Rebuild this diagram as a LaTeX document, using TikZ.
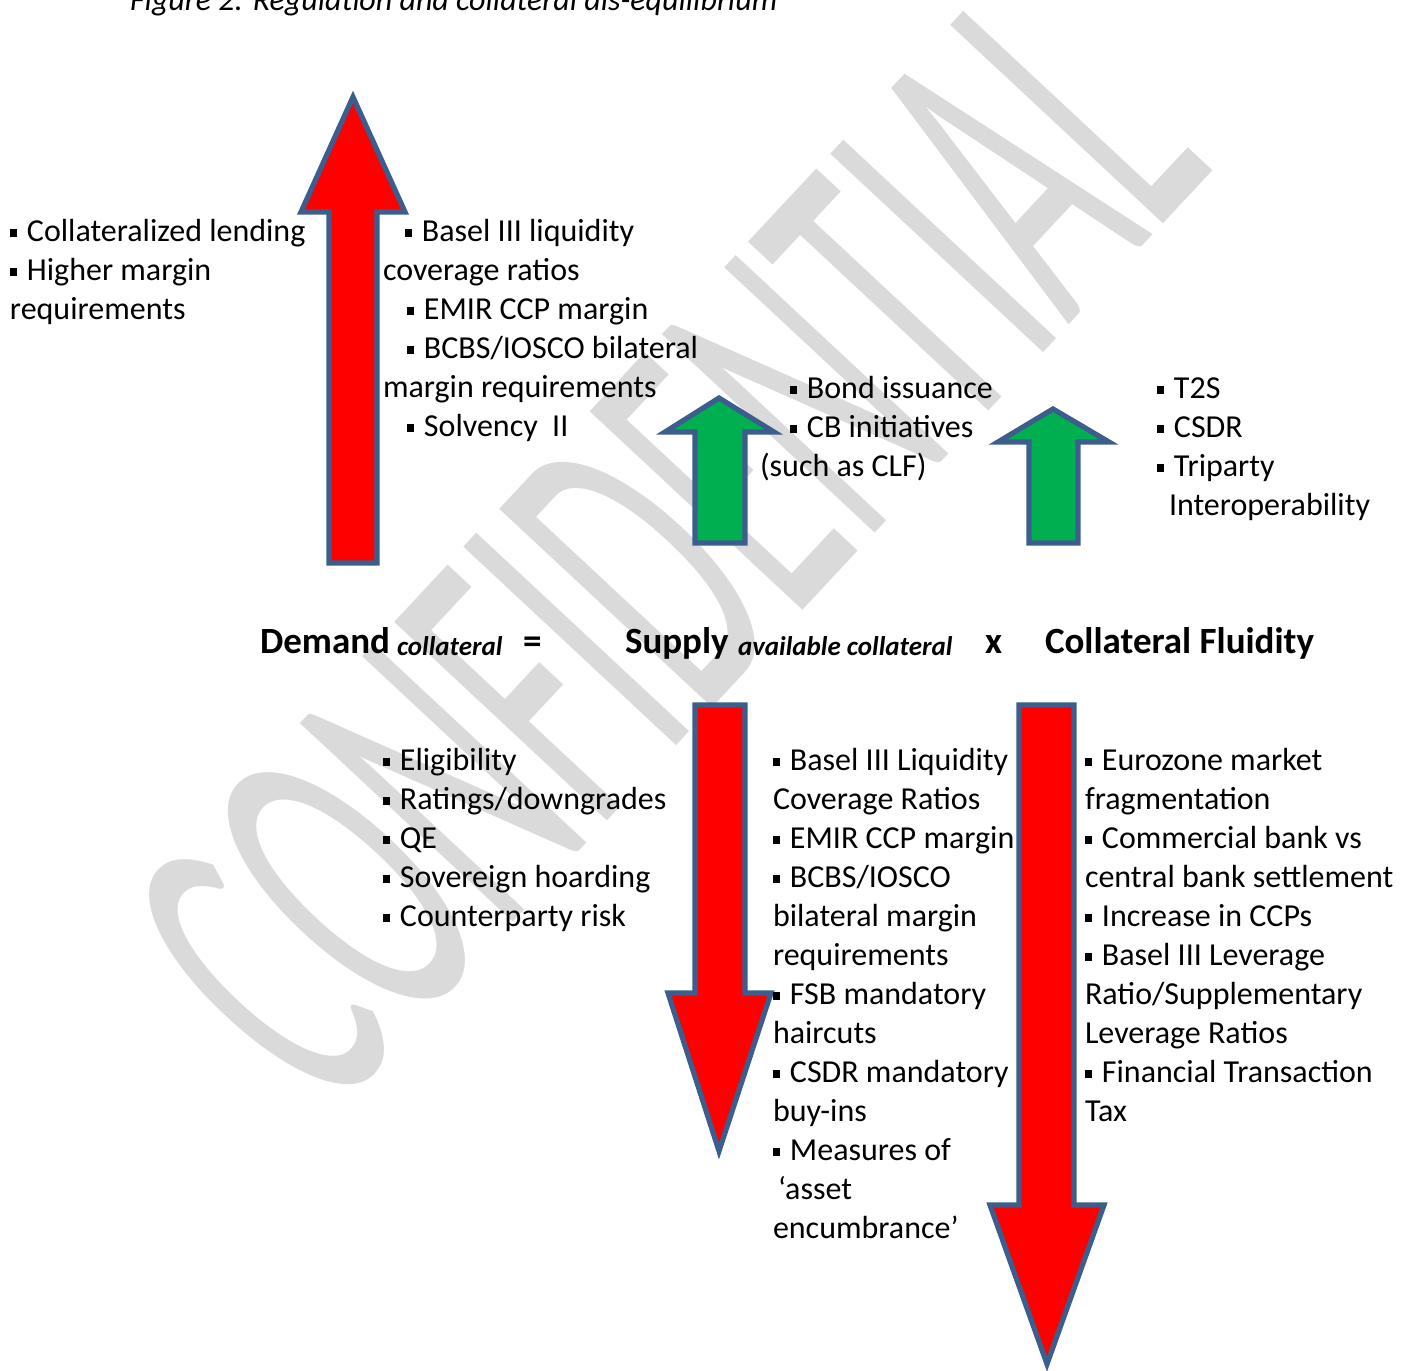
\documentclass[tikz,border=0pt]{standalone}
\usepackage{fontspec}
\setmainfont{Carlito}
\definecolor{arrowred}{HTML}{FF0000}
\definecolor{arrowgreen}{HTML}{00B050}
\definecolor{arrowline}{HTML}{3B5E8C}
\definecolor{wmgray}{HTML}{DADADA}
\newcommand{\bul}{\rule[0.13em]{0.23em}{0.23em}\hspace{0.3em}}

\begin{document}
\begin{tikzpicture}[x=0.5pt,y=-0.5pt,
    every node/.style={inner sep=0pt,outer sep=0pt},
    txt/.style={anchor=base west,align=left,font=\fontsize{16}{19.5}\selectfont},
    eq/.style={anchor=base west,font=\fontsize{18.5}{22}\selectfont\bfseries},
    eqsub/.style={anchor=base west,font=\fontsize{13.5}{16}\selectfont\bfseries\itshape},
    redarrow/.style={fill=arrowred,draw=arrowline,line width=2.6pt},
    greenarrow/.style={fill=arrowgreen,draw=arrowline,line width=2.6pt}]
  \useasboundingbox (0,0) rectangle (1414,1371);
  \clip (0,0) rectangle (1414,1371);

  % watermark and caption (base of a node = its last line)
  \node[text=wmgray,font=\fontsize{108}{130}\selectfont,rotate=47,yscale=2.1] (wmark) at (665,545) {CONFIDENTIAL};
  \node[txt,font=\fontsize{16}{19.5}\selectfont\itshape] (caption) at (130,10) {Figure 2: Regulation and collateral dis-equilibrium};

  % arrows
  \draw[redarrow] (353,97) -- (405,212) -- (377,212) -- (377,563) -- (329,563) -- (329,212) -- (301,212) -- cycle;
  \draw[greenarrow] (719,398) -- (774,432) -- (745,432) -- (745,543) -- (695,543) -- (695,432) -- (665,432) -- cycle;
  \draw[greenarrow] (1053,409) -- (1109,442) -- (1078,442) -- (1078,543) -- (1029,543) -- (1029,442) -- (998,442) -- cycle;
  \draw[redarrow] (695,705) -- (745,705) -- (745,993) -- (771,993) -- (719,1151) -- (668,993) -- (695,993) -- cycle;
  \draw[redarrow] (1019,705) -- (1074,705) -- (1074,1205) -- (1104,1205) -- (1047,1364) -- (990,1205) -- (1019,1205) -- cycle;

  % demand side
  \node[txt] (lending) at (10,319) {\bul Collateralized lending\\ \bul Higher margin\\ requirements};
  \node[txt] (regdemand) at (383,436) {\hspace*{11pt}\bul Basel III liquidity\\ coverage ratios\\
    \hspace*{12pt}\bul EMIR CCP margin\\ \hspace*{12pt}\bul BCBS/IOSCO bilateral\\
    margin requirements\\ \hspace*{12pt}\bul Solvency\ \ II};

  % supply side, up
  \node[txt] (supplyup) at (760,476) {\hspace*{15pt}\bul Bond issuance\\ \hspace*{15pt}\bul CB initiatives\\ (such as CLF)};
  \node[txt] (fluidup) at (1157,515) {\bul T2S\\ \bul CSDR\\ \bul Triparty\\ \hspace*{6pt}Interoperability};

  % equation
  \node[eq] (demand) at (260,653) {Demand};
  \node[eqsub] (demandsub) at (397,655) {collateral};
  \node[eq] (equals) at (523,653) {=};
  \node[eq] (supply) at (625,653) {Supply};
  \node[eqsub] (supplysub) at (738,655) {available collateral};
  \node[eq] (times) at (985,653) {x};
  \node[eq] (fluidity) at (1045,653) {Collateral Fluidity};

  % down side
  \node[txt] (supplydown) at (383,926) {\bul Eligibility\\ \bul Ratings/downgrades\\ \bul QE\\
    \bul Sovereign hoarding\\ \bul Counterparty risk};
  \node[txt] (regsupply) at (773,1238) {\bul Basel III Liquidity\\ Coverage Ratios\\ \bul EMIR CCP margin\\
    \bul BCBS/IOSCO\\ bilateral margin\\ requirements\\ \bul FSB mandatory\\ haircuts\\
    \bul CSDR mandatory\\ buy-ins\\ \bul Measures of\\ \hspace*{2.5pt}‘asset\\ encumbrance’};
  \node[txt] (fluiddown) at (1085,1121) {\bul Eurozone market\\ fragmentation\\ \bul Commercial bank vs\\
    central bank settlement\\ \bul Increase in CCPs\\ \bul Basel III Leverage\\
    Ratio/Supplementary\\ Leverage Ratios\\ \bul Financial Transaction\\ Tax};
\end{tikzpicture}
\end{document}
